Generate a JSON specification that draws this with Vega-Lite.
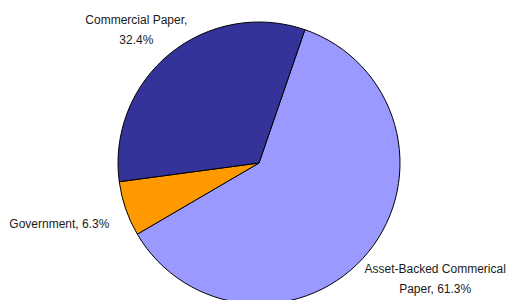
{
  "$schema": "https://vega.github.io/schema/vega-lite/v6.json",
  "width": 494,
  "height": 274,
  "autosize": {"type": "none"},
  "padding": {"left": 12, "top": 26, "right": 0, "bottom": 0},
  "background": "white",
  "config": {
    "view": {"stroke": null},
    "text": {"font": "Liberation Sans", "fontSize": 12, "lineHeight": 20, "fill": "#1a1a1a", "align": "center", "baseline": "middle"}
  },
  "data": {
    "values": [
      {"category": "Asset-Backed Commerical Paper", "value": 61.3, "order": 1, "label": ["Asset-Backed Commerical", "Paper, 61.3%"]},
      {"category": "Government", "value": 6.3, "order": 2, "label": "Government, 6.3%"},
      {"category": "Commercial Paper", "value": 32.4, "order": 3, "label": ["Commercial Paper,", "32.4%"]}
    ]
  },
  "encoding": {
    "theta": {"field": "value", "type": "quantitative", "stack": true, "scale": {"range": [0.3316, 6.6148]}},
    "order": {"field": "order", "type": "quantitative"}
  },
  "layer": [
    {
      "mark": {"type": "arc", "radius": 141, "stroke": "#000000", "strokeWidth": 1},
      "encoding": {
        "color": {
          "field": "category",
          "type": "nominal",
          "scale": {
            "domain": ["Asset-Backed Commerical Paper", "Government", "Commercial Paper"],
            "range": ["#9999FF", "#FF9900", "#333399"]
          },
          "legend": null
        }
      }
    },
    {
      "mark": {"type": "text", "radius": 211, "dx": 13, "dy": -28},
      "encoding": {"text": {"condition": {"test": "datum.order == 1", "field": "label"}, "value": ""}}
    },
    {
      "mark": {"type": "text", "radius": 209, "dx": -2, "dy": -7},
      "encoding": {"text": {"condition": {"test": "datum.order == 2", "field": "label"}, "value": ""}}
    },
    {
      "mark": {"type": "text", "radius": 181, "dx": -8, "dy": -3},
      "encoding": {"text": {"condition": {"test": "datum.order == 3", "field": "label"}, "value": ""}}
    }
  ]
}
